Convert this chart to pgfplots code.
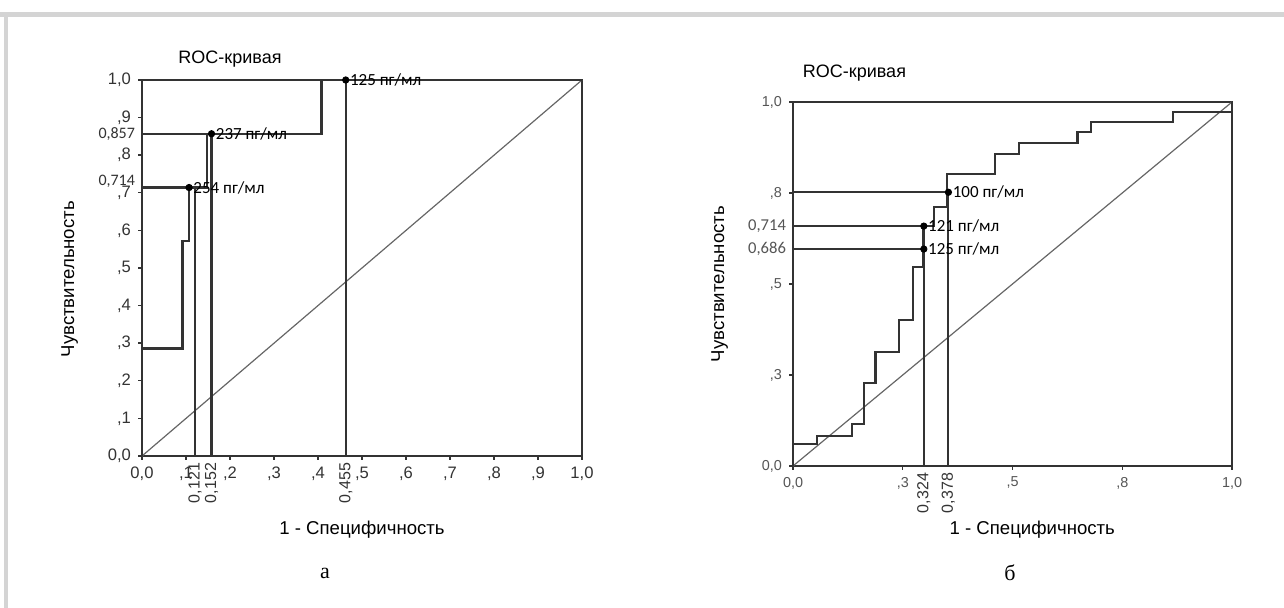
\documentclass[border=0pt]{standalone}
\usepackage{fontspec}
\setmainfont{Liberation Sans}
\newfontfamily\calib{Carlito}
\newfontfamily\tms{Liberation Serif}
\usepackage{pgfplots}
\pgfplotsset{compat=1.18}

\definecolor{linec}{HTML}{333333}
\definecolor{diagc}{HTML}{666666}
\definecolor{framec}{HTML}{D4D4D4}
\definecolor{tickc}{HTML}{555555}

\pgfplotsset{
  rocax/.style={
    anchor=south west, scale only axis,
    xmin=0, xmax=1, ymin=0, ymax=1,
    axis line style={line width=1pt, draw=linec},
    tick align=outside, xtick pos=bottom, ytick pos=left,
    major tick length=2pt,
    every tick/.style={line width=0.7pt, draw=linec},
    clip=false,
  },
  roc/.style={line width=1.05pt, draw=linec, mark=none},
  diag/.style={line width=0.6pt, draw=diagc, mark=none},
  pts/.style={only marks, mark=*, mark size=1.6pt, color=black,
    point meta=explicit symbolic, nodes near coords,
    every node near coord/.style={anchor=west, inner sep=1pt, xshift=1pt,
      font=\calib\fontsize{8.5}{9}\selectfont, text=black}},
}

\begin{document}
\begin{tikzpicture}
\path[use as bounding box] (0,0) rectangle (642pt,304pt);
\fill[framec] (0,295.5pt) rectangle (642pt,298pt);
\fill[framec] (2pt,0) rectangle (4pt,298pt);

% ---- panel a ----
\begin{axis}[rocax,
  at={(71pt,76pt)}, width=220pt, height=188pt,
  xtick={0,0.1,0.2,0.3,0.4,0.5,0.6,0.7,0.8,0.9,1},
  xticklabels={{0,0},{,1},{,2},{,3},{,4},{,5},{,6},{,7},{,8},{,9},{1,0}},
  ytick={0,0.1,0.2,0.3,0.4,0.5,0.6,0.7,0.8,0.9,1},
  yticklabels={{0,0},{,1},{,2},{,3},{,4},{,5},{,6},{,7},{,8},{,9},{1,0}},
  tick label style={font=\fontsize{8.3}{9}\selectfont, text=linec},
  extra x ticks={0.1205,0.158,0.463},
  extra x tick labels={{0,121},{0,152},{0,455}},
  extra x tick style={major tick length=0pt,
    tick label style={rotate=90, anchor=east, font=\fontsize{8}{9}\selectfont}},
  extra y ticks={0.857,0.714},
  extra y tick labels={{0,857},{\raisebox{7.5pt}{0,714}}},
  extra y tick style={major tick length=0pt,
    tick label style={font=\calib\fontsize{8}{9}\selectfont}},
  title={ROC-кривая}, title style={font=\fontsize{9}{10}\selectfont, at={(0.2,1)}, yshift=-3pt},
  xlabel={1 - Специфичность}, xlabel style={font=\fontsize{9.3}{10}\selectfont,
    at={(axis description cs:0.5,0)}, anchor=north, yshift=-29pt},
  ylabel={Чувствительность}, ylabel style={font=\fontsize{9.3}{10}\selectfont,
    at={(axis description cs:0,0.47)}, anchor=south, yshift=28.5pt},
]
\addplot[diag] coordinates {(0,0) (1,1)};
\addplot[roc] coordinates {(0,0) (0,0.286) (0.092,0.286) (0.092,0.571) (0.107,0.571)
  (0.107,0.714) (0.147,0.714) (0.147,0.857) (0.408,0.857) (0.408,1) (1,1)};
\addplot[roc] coordinates {(0,0.714) (0.1205,0.714) (0.1205,0)};
\addplot[roc] coordinates {(0,0.857) (0.158,0.857) (0.158,0)};
\addplot[roc] coordinates {(0.463,1) (0.463,0)};
\addplot[pts] coordinates {(0.107,0.714) [254 пг/мл] (0.158,0.857) [237 пг/мл] (0.463,1) [125 пг/мл]};
\end{axis}

% ---- panel b ----
\begin{axis}[rocax,
  at={(396.5pt,71pt)}, width=219.5pt, height=182pt,
  xtick={0,0.25,0.5,0.75,1},
  xticklabels={{0,0},{,3},{,5},{,8},{1,0}},
  ytick={0,0.25,0.5,0.75,1},
  yticklabels={{0,0},{,3},{,5},{,8},{1,0}},
  tick label style={font=\fontsize{7.2}{8}\selectfont, text=tickc},
  extra x ticks={0.298,0.354},
  extra x tick labels={{0,324},{0,378}},
  extra x tick style={major tick length=0pt,
    tick label style={rotate=90, anchor=east, text=linec, font=\fontsize{8}{9}\selectfont}},
  extra y ticks={0.659,0.596},
  extra y tick labels={{0,714},{0,686}},
  extra y tick style={major tick length=0pt,
    tick label style={text=tickc, font=\calib\fontsize{8.3}{9}\selectfont}},
  title={ROC-кривая}, title style={font=\fontsize{9}{10}\selectfont, at={(0.14,1)}, yshift=1pt},
  xlabel={1 - Специфичность}, xlabel style={font=\fontsize{9.3}{10}\selectfont,
    at={(axis description cs:0.545,0)}, anchor=north, yshift=-24pt},
  ylabel={Чувствительность}, ylabel style={font=\fontsize{9.3}{10}\selectfont,
    at={(axis description cs:0,0.5)}, anchor=south, yshift=29pt},
]
\addplot[diag] coordinates {(0,0) (1,1)};
\addplot[roc] coordinates {(0,0) (0,0.060) (0.055,0.060) (0.055,0.083) (0.134,0.083)
  (0.134,0.115) (0.162,0.115) (0.162,0.227) (0.188,0.227) (0.188,0.312) (0.241,0.312)
  (0.241,0.401) (0.274,0.401) (0.274,0.546) (0.297,0.546) (0.297,0.659) (0.322,0.659)
  (0.322,0.712) (0.350,0.712) (0.350,0.801) (0.460,0.801) (0.460,0.856) (0.515,0.856)
  (0.515,0.887) (0.648,0.887) (0.648,0.918) (0.679,0.918) (0.679,0.944) (0.866,0.944)
  (0.866,0.972) (1,0.972) (1,1)};
\addplot[roc] coordinates {(0,0.752) (0.354,0.752) (0.354,0)};
\addplot[roc] coordinates {(0,0.659) (0.298,0.659) (0.298,0)};
\addplot[roc] coordinates {(0,0.596) (0.298,0.596)};
\addplot[pts] coordinates {(0.354,0.752) [100 пг/мл] (0.298,0.659) [121 пг/мл] (0.298,0.596) [125 пг/мл]};
\end{axis}

\node[font=\tms\fontsize{11}{12}\selectfont] at (162.5pt,17.5pt) {а};
\node[font=\tms\fontsize{11}{12}\selectfont] at (505pt,17.5pt) {б};
\end{tikzpicture}
\end{document}
